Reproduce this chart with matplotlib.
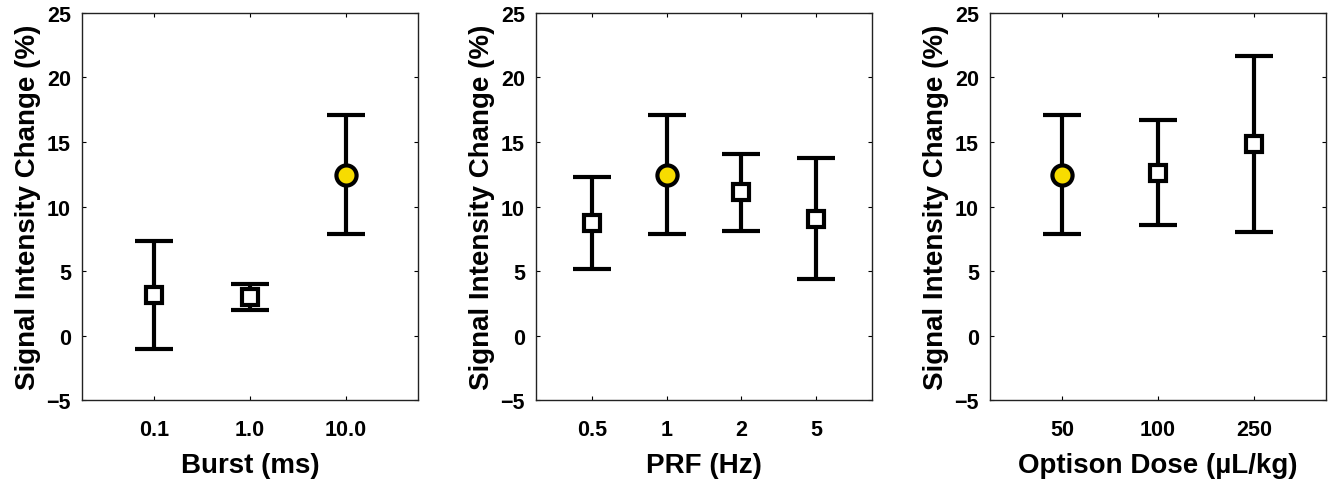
import matplotlib
matplotlib.use('Agg')
import matplotlib.pyplot as plt

plt.rcParams['font.family'] = ['Liberation Sans', 'DejaVu Sans']
plt.rcParams['font.weight'] = 'bold'

# panel 1: burst length
burst_labels = ['0.1', '1.0', '10.0']
burst_mean = [3.17, 2.98, 12.47]
burst_err = [4.18, 1.03, 4.62]

# panel 2: pulse repetition frequency
prf_labels = ['0.5', '1', '2', '5']
prf_mean = [8.72, 12.47, 11.1, 9.05]
prf_err = [3.53, 4.62, 2.99, 4.68]

# panel 3: Optison dose
dose_labels = ['50', '100', '250']
dose_mean = [12.47, 12.63, 14.82]
dose_err = [4.62, 4.1, 6.82]

# which point in each panel is the reference condition (yellow circle)
ref_idx = [2, 1, 0]

panels = [
    (burst_labels, burst_mean, burst_err, 'Burst (ms)'),
    (prf_labels, prf_mean, prf_err, 'PRF (Hz)'),
    (dose_labels, dose_mean, dose_err, 'Optison Dose (\u00b5L/kg)'),
]

fig = plt.figure(figsize=(13.31, 4.81), dpi=100)
lefts = [0.0616, 0.4027, 0.7438]

for k, (labels, mean, err, xlab) in enumerate(panels):
    ax = fig.add_axes([lefts[k], 0.1663, 0.2525, 0.8046])
    xs = list(range(1, len(labels) + 1))
    for i, x in enumerate(xs):
        if i == ref_idx[k]:
            mk, ms, fc = 'o', 14.5, '#F7DC00'
        else:
            mk, ms, fc = 's', 11.8, 'white'
        ax.errorbar(x, mean[i], yerr=err[i], fmt=mk, color='black', ecolor='black',
                    elinewidth=3.0, capsize=13.5, capthick=3.0, markersize=ms,
                    markerfacecolor=fc, markeredgecolor='black', markeredgewidth=3.0,
                    zorder=3)
    ax.set_xlim(0.25, len(labels) + 0.75)
    ax.set_ylim(-5, 25)
    ax.set_xticks(xs)
    ax.set_xticklabels(labels)
    ax.set_yticks(range(-5, 26, 5))
    ax.set_yticklabels(['\u22125', '0', '5', '10', '15', '20', '25'])
    ax.tick_params(direction='in', length=3, width=0.8, top=True, right=True,
                   labelsize=15.5, pad=8)
    ax.tick_params(axis='x', pad=14)
    for s in ax.spines.values():
        s.set_linewidth(1.0)
        s.set_color('#222222')
    ax.set_xlabel(xlab, fontsize=20, fontweight='bold', labelpad=8)
    ax.set_ylabel('Signal Intensity Change (%)', fontsize=20, fontweight='bold', labelpad=4)

plt.savefig('out.png', dpi=100)
